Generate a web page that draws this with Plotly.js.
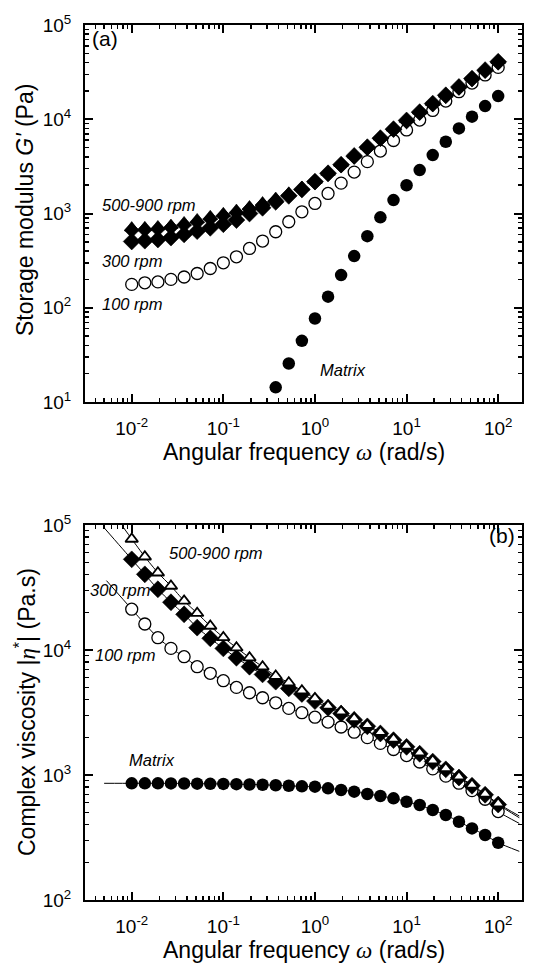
<!DOCTYPE html>
<html>
<head>
<meta charset="utf-8">
<script src="https://cdn.plot.ly/plotly-3.0.1.min.js"></script>
<style>html,body{margin:0;padding:0;background:#fff;}</style>
</head>
<body>
<div id="chart" style="width:536px;height:971px;"></div>
<script>
// ---------- data ----------
const omega = [0.01,0.0139,0.0193,0.0268,0.0373,0.0518,0.072,0.1,0.139,0.193,0.268,0.373,0.518,0.72,1,1.39,1.93,2.68,3.73,5.18,7.2,10,13.9,19.3,26.8,37.3,51.8,72,100];

// (a) storage modulus G' (Pa)
const gA_500_900_tri = [705,710,725,750,800,860,930,1000,1080,1180,1300,1450,1650,1900,2250,2750,3400,4200,5200,6500,8100,10000,12300,15100,18500,22700,27900,34200,42000];
const gA_500_900_dia = [665,672,685,710,755,810,875,945,1020,1115,1230,1375,1565,1805,2145,2625,3245,4010,4960,6210,7760,9560,11760,14460,17710,21710,26710,32710,40300];
const gA_300 = [505,515,530,555,600,650,705,770,851,1000,1150,1330,1540,1800,2180,2670,3300,4080,5050,6300,7850,9700,11900,14650,17950,22000,27000,33200,40700];
const gA_100 = [177,184,188,200,212,231,261,300,347,426,510,640,817,1043,1279,1633,2100,2750,3550,4600,5950,7700,9800,12400,15600,19600,24200,29500,35500];
const omegaMatrixA = [0.373,0.518,0.72,1,1.39,1.93,2.68,3.73,5.18,7.2,10,13.9,19.3,26.8,37.3,51.8,72,100];
const gA_matrix = [14.3,25.6,44.6,76.9,131,222,353,575,910,1387,1995,2890,4170,5770,8000,10650,13800,17600];

// (b) complex viscosity |eta*| (Pa.s)
const etaB_500_900 = [77300,55700,41500,32500,24700,19700,15560,12600,10430,8680,7350,6190,5475,4720,4100,3565,3210,2840,2500,2200,1940,1710,1507,1301,1130,969,832,705,590];
const etaB_300 = [53100,40300,30600,24100,19300,15100,12400,10300,8680,7350,6380,5580,4930,4450,3900,3450,3100,2760,2450,2150,1900,1680,1480,1280,1110,955,820,695,580];
const etaB_100 = [21200,16150,12540,10300,8840,7350,6510,5680,5020,4550,4150,3780,3410,3150,2900,2650,2420,2200,1990,1790,1600,1430,1270,1120,980,860,750,640,510];
const etaB_matrix = [858,858,858,857,855,853,850,848,845,840,835,828,820,812,807,782,759,736,705,679,651,611,575,525,479,423,374,331,287];

// fit-line end points (extrapolated ends of the model curves)
const fitStart_500_900 = [0.008, 97000];  const fitEnd_500_900 = [170, 470];
const fitStart_300 = [0.005, 95000];      const fitEnd_300 = [170, 455];
const fitStart_100 = [0.0053, 35900];     const fitEnd_100 = [170, 410];
const fitStart_matrix = [0.005, 858];     const fitEnd_matrix = [170, 245];

// tick labels
const majorVals = [0.01,0.1,1,10,100];
const majorText = ['10<sup>-2</sup>','10<sup>-1</sup>','10<sup>0</sup>','10<sup>1</sup>','10<sup>2</sup>'];
const yValsA = [10,100,1000,10000,100000];
const yTextA = ['10<sup>1</sup>','10<sup>2</sup>','10<sup>3</sup>','10<sup>4</sup>','10<sup>5</sup>'];
const yValsB = [100,1000,10000,100000];
const yTextB = ['10<sup>2</sup>','10<sup>3</sup>','10<sup>4</sup>','10<sup>5</sup>'];

// ---------- helpers ----------
function minorTicks(lo, hi){ // minor tick positions 2..9 x 10^k
  const v=[]; for(let e=lo;e<=hi;e++){for(let m=2;m<=9;m++){v.push(m*Math.pow(10,e));}} return v;
}
function fitLine(start, ys, end){ return {x:[start[0]].concat(omega,[end[0]]), y:[start[1]].concat(ys,[end[1]])}; }

const FONT = 'Liberation Sans, Arial, sans-serif';
const L=85, R=14, T=25, B=71, W=536, H=971;
const PH = H-T-B, PW = W-L-R;
const px = x => (x-L)/PW;
const py = y => (H-B-y)/PH;

const filledCircle = {symbol:'circle', size:12.5, color:'#000', line:{width:0}};
const openCircle = {symbol:'circle', size:12, color:'#fff', line:{color:'#000', width:1.3}};
const filledDiamond = {symbol:'diamond', size:13, color:'#000', line:{color:'#000', width:0.6}};
const smallDiamond = {symbol:'diamond', size:11.5, color:'#000', line:{color:'#000', width:0.6}};
const filledTri = {symbol:'triangle-up', size:12.5, color:'#000', line:{color:'#000', width:0.6}};
const openTri = {symbol:'triangle-up', size:11, color:'#fff', line:{color:'#000', width:1.8}};

const traces = [];
// panel (a)
traces.push({x:omega, y:gA_100, xaxis:'x', yaxis:'y', mode:'markers', marker:openCircle});
traces.push({x:omega, y:gA_300, xaxis:'x', yaxis:'y', mode:'markers', marker:filledDiamond});
traces.push({x:omega, y:gA_500_900_dia, xaxis:'x', yaxis:'y', mode:'markers', marker:smallDiamond});
traces.push({x:omega, y:gA_500_900_tri, xaxis:'x', yaxis:'y', mode:'markers', marker:filledTri});
traces.push({x:omegaMatrixA, y:gA_matrix, xaxis:'x', yaxis:'y', mode:'markers', marker:filledCircle});

// panel (b) fit lines
[[fitStart_matrix,etaB_matrix,fitEnd_matrix],[fitStart_100,etaB_100,fitEnd_100],[fitStart_300,etaB_300,fitEnd_300],[fitStart_500_900,etaB_500_900,fitEnd_500_900]].forEach(f=>{
  const l = fitLine(f[0],f[1],f[2]);
  traces.push({x:l.x, y:l.y, xaxis:'x2', yaxis:'y2', mode:'lines', line:{color:'#000', width:1, shape:'spline', smoothing:0.6}});
});
traces.push({x:omega, y:etaB_matrix, xaxis:'x2', yaxis:'y2', mode:'markers', marker:filledCircle});
traces.push({x:omega, y:etaB_100, xaxis:'x2', yaxis:'y2', mode:'markers', marker:openCircle});
traces.push({x:omega, y:etaB_300, xaxis:'x2', yaxis:'y2', mode:'markers', marker:filledDiamond});
traces.push({x:omega, y:etaB_500_900, xaxis:'x2', yaxis:'y2', mode:'markers', marker:openTri});

function xAxis(anchor){
  return {type:'log', range:[-2.51,2.26], anchor:anchor, domain:[0,1],
    tickmode:'array', tickvals:majorVals, ticktext:majorText,
    ticks:'inside', ticklen:8, tickwidth:2, tickcolor:'#000',
    showline:true, linewidth:2, linecolor:'#000', mirror:'ticks',
    showgrid:false, zeroline:false, ticklabelstandoff:8,
    tickfont:{family:FONT, size:19, color:'#000'},
    minor:{tickmode:'array', tickvals:minorTicks(-3,2), ticks:'inside', ticklen:4, tickwidth:1.5, tickcolor:'#000', showgrid:false}};
}
function yAxis(anchor, range, domain, vals, text, lo, hi){
  return {type:'log', range:range, anchor:anchor, domain:domain,
    tickmode:'array', tickvals:vals, ticktext:text,
    ticks:'inside', ticklen:8, tickwidth:2, tickcolor:'#000',
    showline:true, linewidth:2, linecolor:'#000', mirror:'ticks',
    showgrid:false, zeroline:false, ticklabelstandoff:8,
    tickfont:{family:FONT, size:19, color:'#000'},
    minor:{tickmode:'array', tickvals:minorTicks(lo,hi), ticks:'inside', ticklen:4, tickwidth:1.5, tickcolor:'#000', showgrid:false}};
}

function lab(text, x, y, size, anchor){
  return {text:text, xref:'paper', yref:'paper', x:px(x), y:py(y), xanchor:anchor||'left', yanchor:'middle',
    showarrow:false, font:{family:FONT, size:size, color:'#000'}};
}
const omegaSym = "<i><span style=\"font-family:'Liberation Serif',serif\">ω</span></i>";
const etaSym = "<i><span style=\"font-family:'Liberation Serif',serif\">η</span></i>";
const annotations = [
  lab('(a)', 90, 38, 21),
  lab('<i>500-900 rpm</i>', 100, 205, 16.5),
  lab('<i>300 rpm</i>', 100, 261, 16.5),
  lab('<i>100 rpm</i>', 100, 304, 16.5),
  lab('<i>Matrix</i>', 318, 370, 16.5),
  lab('Angular frequency '+omegaSym+' (rad/s)', 304, 452, 23, 'center'),
  Object.assign(lab('Storage modulus <i>G\'</i> (Pa)', 25, 210, 23, 'center'), {textangle:-90}),
  lab('(b)', 517, 535, 21, 'right'),
  lab('<i>500-900 rpm</i>', 167, 553, 16.5),
  lab('<i>300 rpm</i>', 88, 590, 16.5),
  lab('<i>100 rpm</i>', 93, 655, 16.5),
  lab('<i>Matrix</i>', 127, 760, 16.5),
  lab('Angular frequency '+omegaSym+' (rad/s)', 304, 950, 23, 'center'),
  Object.assign(lab('Complex viscosity |'+etaSym+'<sup>*</sup>| (Pa.s)', 25, 712, 23, 'center'), {textangle:-90})
];

const layout = {
  width:W, height:H, margin:{l:L, r:R, t:T, b:B, pad:0},
  paper_bgcolor:'#fff', plot_bgcolor:'#fff', showlegend:false,
  font:{family:FONT, color:'#000'},
  xaxis: xAxis('y'),
  yaxis: yAxis('x', [1,5], [py(402),1], yValsA, yTextA, 1, 4),
  xaxis2: xAxis('y2'),
  yaxis2: yAxis('x2', [2,5], [0, py(525)], yValsB, yTextB, 2, 4),
  annotations: annotations
};
Plotly.newPlot('chart', traces, layout, {staticPlot:true, displayModeBar:false});
</script>
</body>
</html>
